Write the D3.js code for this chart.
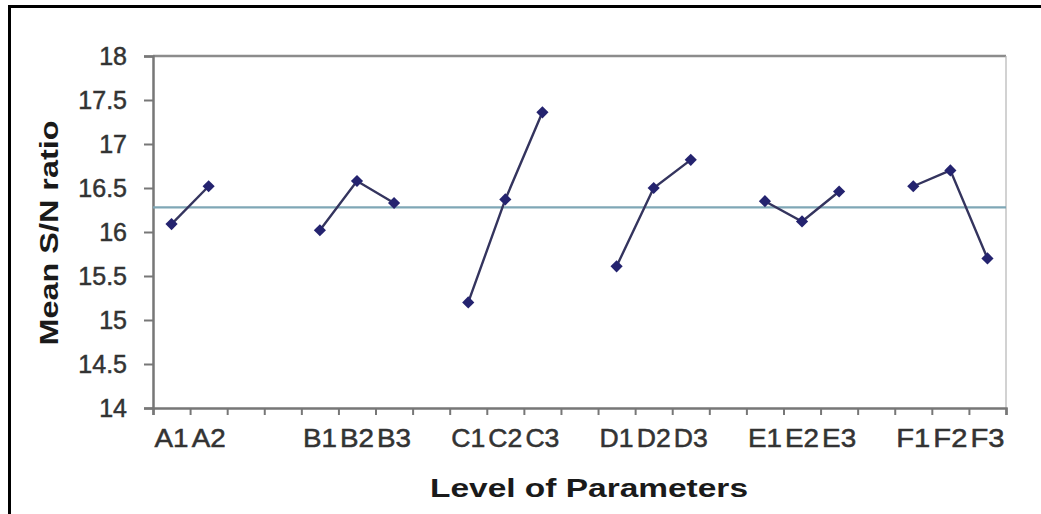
<!DOCTYPE html>
<html>
<head>
<meta charset="utf-8">
<script src="https://cdn.jsdelivr.net/npm/d3@7"></script>
<style>
  body { margin: 0; background: #fff; }
  text { font-family: "Liberation Sans", Arial, sans-serif; }
</style>
</head>
<body>
<script>
// category slots along the x axis (blank slots separate the factors)
var tickLabels = ["A1","A2","","","B1","B2","B3","","C1","C2","C3","","D1","D2","D3","","E1","E2","E3","","F1","F2","F3"];

// levels of each factor and their mean S/N ratio
var factorLevels = [["A1","A2"],["B1","B2","B3"],["C1","C2","C3"],["D1","D2","D3"],["E1","E2","E3"],["F1","F2","F3"]];
var factorMeans = [
  [16.09, 16.52],
  [16.02, 16.58, 16.33],
  [15.20, 16.37, 17.36],
  [15.61, 16.50, 16.82],
  [16.35, 16.12, 16.46],
  [16.52, 16.70, 15.70]
];
var overallMean = 16.28;
var yTicks = [14, 14.5, 15, 15.5, 16, 16.5, 17, 17.5, 18];

drawChart();

function drawChart() {
  var w = 1041, h = 514;
  var m = {left: 153, right: 1006, top: 56, bottom: 408};

  var svg = d3.select("body").append("svg")
    .attr("width", w)
    .attr("height", h);

  // outer frame (top and left edge visible)
  svg.append("line").attr("x1", 8).attr("x2", w).attr("y1", 6.5).attr("y2", 6.5)
    .attr("stroke", "#000").attr("stroke-width", 3);
  svg.append("line").attr("x1", 9.5).attr("x2", 9.5).attr("y1", 5).attr("y2", h)
    .attr("stroke", "#000").attr("stroke-width", 3);

  var slots = d3.range(tickLabels.length);
  var x = d3.scaleBand().domain(slots).range([m.left, m.right]);
  var xEdge = d3.scaleLinear().domain([0, tickLabels.length]).range([m.left, m.right]);
  var y = d3.scaleLinear().domain([14, 18]).range([m.bottom, m.top]);

  // plot area border
  svg.append("line").attr("x1", m.left).attr("x2", m.right).attr("y1", y(18)).attr("y2", y(18))
    .attr("stroke", "#8c8c8c").attr("stroke-width", 2.5);
  svg.append("line").attr("x1", m.right).attr("x2", m.right).attr("y1", m.top).attr("y2", m.bottom)
    .attr("stroke", "#b4b4b4").attr("stroke-width", 1.2);

  // y axis
  var yAxis = svg.append("g")
    .attr("transform", "translate(" + m.left + ",0)")
    .call(d3.axisLeft(y).tickValues(yTicks).tickSize(9).tickPadding(17).tickFormat(function(d) { return String(d); }));
  yAxis.select(".domain").attr("stroke", "#777").attr("stroke-width", 2.5);
  yAxis.selectAll(".tick line").attr("stroke", "#777").attr("stroke-width", 2);
  yAxis.selectAll("text").attr("font-size", 25).attr("fill", "#333")
    .attr("stroke", "#333").attr("stroke-width", 0.5);

  // x axis: ticks on slot boundaries, labels centred in slots
  var xTicks = svg.append("g")
    .attr("transform", "translate(0," + m.bottom + ")")
    .call(d3.axisBottom(xEdge).tickValues(d3.range(tickLabels.length + 1)).tickSize(7).tickFormat(""));
  xTicks.select(".domain").attr("stroke", "#777").attr("stroke-width", 2.5);
  xTicks.selectAll(".tick line").attr("stroke", "#777").attr("stroke-width", 2);

  var xLabels = svg.append("g")
    .attr("transform", "translate(0," + m.bottom + ")")
    .call(d3.axisBottom(x).tickSize(0).tickPadding(21).tickFormat(function(d) { return tickLabels[d]; }));
  xLabels.select(".domain").remove();
  xLabels.selectAll("text").attr("font-size", 25).attr("fill", "#333")
    .attr("stroke", "#333").attr("stroke-width", 0.5)
    .filter(function(d) { return tickLabels[d] !== ""; })
    .attr("textLength", 34).attr("lengthAdjust", "spacingAndGlyphs");

  // overall mean line
  svg.append("line")
    .attr("x1", m.left).attr("x2", m.right)
    .attr("y1", y(overallMean)).attr("y2", y(overallMean))
    .attr("stroke", "#7fa7b6").attr("stroke-width", 2.2);

  // factor lines and markers
  var line = d3.line()
    .x(function(d) { return x(tickLabels.indexOf(d.level)) + x.bandwidth() / 2; })
    .y(function(d) { return y(d.value); });

  factorLevels.forEach(function(levels, i) {
    var pts = levels.map(function(l, j) { return {level: l, value: factorMeans[i][j]}; });
    svg.append("path")
      .datum(pts)
      .attr("d", line)
      .attr("fill", "none")
      .attr("stroke", "#34345e")
      .attr("stroke-width", 2.4);
    svg.selectAll(null)
      .data(pts)
      .enter()
      .append("path")
      .attr("d", d3.symbol().type(d3.symbolSquare).size(74))
      .attr("transform", function(d) {
        return "translate(" + line.x()(d) + "," + line.y()(d) + ") rotate(45)";
      })
      .attr("fill", "#24236f");
  });

  // axis titles
  svg.append("text")
    .attr("x", 589).attr("y", 497)
    .attr("text-anchor", "middle")
    .attr("font-size", 26).attr("font-weight", "bold").attr("fill", "#1a1a1a")
    .attr("textLength", 318).attr("lengthAdjust", "spacingAndGlyphs")
    .text("Level of Parameters");

  svg.append("text")
    .attr("transform", "translate(58,233) rotate(-90)")
    .attr("text-anchor", "middle")
    .attr("font-size", 26).attr("font-weight", "bold").attr("fill", "#1a1a1a")
    .attr("textLength", 225).attr("lengthAdjust", "spacingAndGlyphs")
    .text("Mean S/N ratio");
}
</script>
</body>
</html>
